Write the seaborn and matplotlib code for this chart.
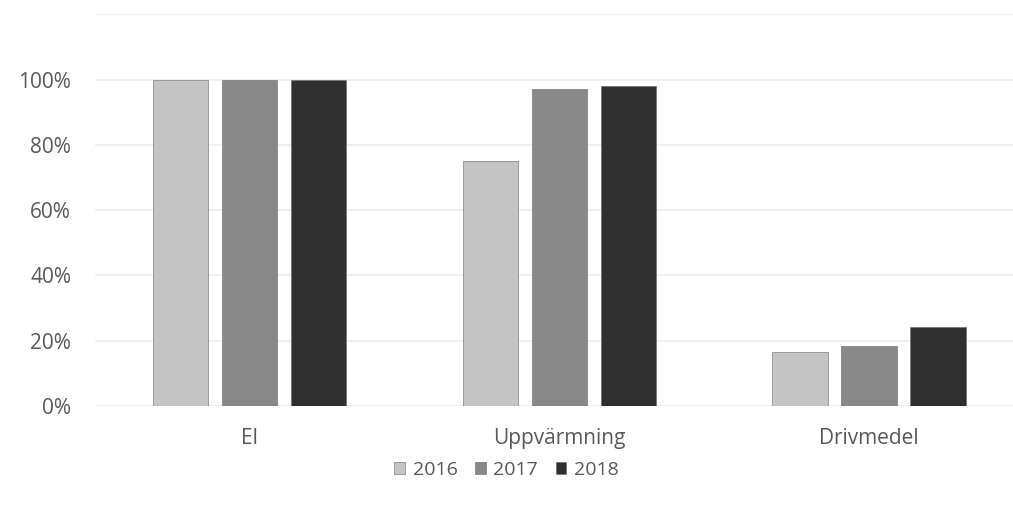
import matplotlib
matplotlib.use("Agg")
import matplotlib.pyplot as plt
import seaborn as sns
import pandas as pd
from matplotlib.ticker import PercentFormatter

kategorier = ["El", "Uppvärmning", "Drivmedel"]
andel_2016 = [1.00, 0.75, 0.165]
andel_2017 = [1.00, 0.97, 0.183]
andel_2018 = [1.00, 0.98, 0.242]
ar = ["2016", "2017", "2018"]
farger = ["#c4c4c4", "#888888", "#2f2f2f"]

df = pd.DataFrame({
    "kategori": kategorier * 3,
    "andel": andel_2016 + andel_2017 + andel_2018,
    "ar": [a for a in ar for _ in kategorier],
})

sns.set_style("white")
plt.rcParams["font.family"] = ["Open Sans", "DejaVu Sans"]

fig = plt.figure(figsize=(10.13, 5.08), dpi=100)
ax = fig.add_axes([0.0934, 0.201, 0.9066, 0.771])

sns.barplot(data=df, x="kategori", y="andel", hue="ar", palette=farger,
            width=0.669, gap=0.2, ax=ax, edgecolor="#666666", linewidth=0.4,
            errorbar=None)

ax.set_ylim(0, 1.2)
ax.set_xlim(-0.5, 2.465)
ax.set_yticks([0, 0.2, 0.4, 0.6, 0.8, 1.0])
ax.yaxis.set_major_formatter(PercentFormatter(1.0, decimals=0))
ax.grid(axis="y", color="#eeeeee", linewidth=1.2)
ax.axhline(1.2, color="#eeeeee", linewidth=1.2, zorder=0)
ax.set_axisbelow(True)
for s in ax.spines.values():
    s.set_visible(False)
ax.tick_params(axis="both", length=0, labelsize=15, colors="#595959")
ax.tick_params(axis="y", pad=17)
ax.tick_params(axis="x", pad=16)
ax.set_xlabel("")
ax.set_ylabel("")

ax.get_legend().remove()
handles, labels = ax.get_legend_handles_labels()
fig.legend(handles, labels, loc="center", bbox_to_anchor=(0.5, 0.075), ncol=3,
           frameon=False, fontsize=14, labelcolor="#595959", handlelength=0.55,
           handleheight=0.55, handletextpad=0.4, columnspacing=0.9)

fig.savefig("out.png", dpi=100)
